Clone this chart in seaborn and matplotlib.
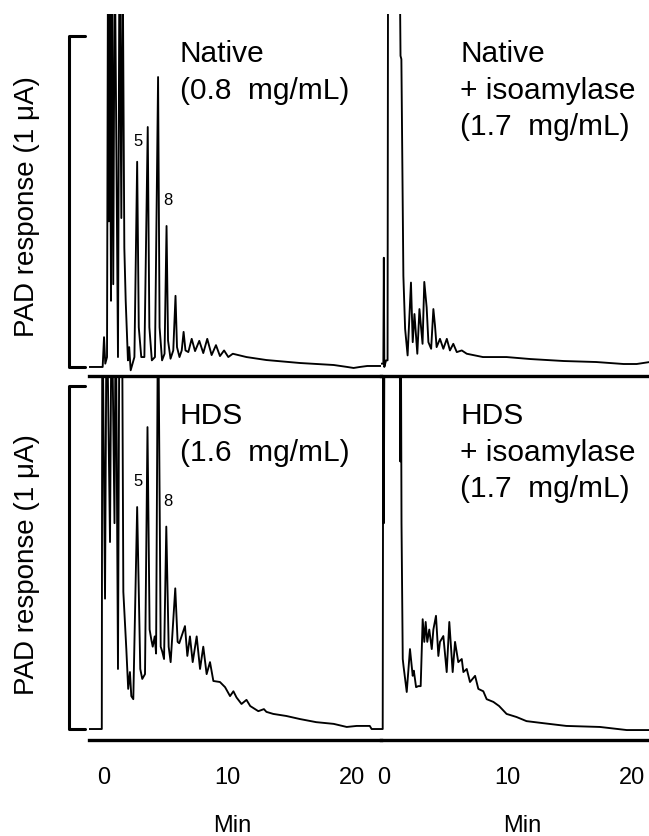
import numpy as np
import pandas as pd
import seaborn as sns
from matplotlib import pyplot as plt
from matplotlib import transforms

#%% Data (time in min, response in uA)
native_t = [-1.15, -0.05, 0.06, 0.16, 0.30, 0.38, 0.45, 0.50, 0.62, 0.68, 0.80, 0.92,
            1.18, 1.30, 1.45, 1.55, 1.69, 1.80, 1.98, 2.08, 2.20, 2.50, 2.72, 2.85,
            3.05, 3.30, 3.57, 3.70, 3.90, 4.15, 4.40, 4.52, 4.72, 4.92, 5.08, 5.20,
            5.40, 5.62, 5.80, 5.92, 6.12, 6.30, 6.45, 6.60, 6.83, 7.10, 7.37, 7.71,
            8.03, 8.35, 8.70, 9.05, 9.37, 9.70, 10.04, 10.40, 11.5, 13.1, 15.8, 18.5,
            19.6, 20.1, 20.6, 21.2, 22.4]
native_r = [0.0, 0.0, 0.09, 0.01, 0.03, 1.3, 0.44, 1.3, 0.20, 1.3, 0.25, 1.3,
            0.03, 1.3, 0.45, 1.3, 0.36, 0.20, 0.02, 0.06, -0.01, 0.03, 0.62, 0.12,
            0.03, 0.03, 0.725, 0.12, 0.02, 0.03, 0.876, 0.12, 0.02, 0.04, 0.426, 0.08,
            0.025, 0.05, 0.215, 0.06, 0.03, 0.05, 0.106, 0.05, 0.045, 0.085, 0.048, 0.079,
            0.042, 0.085, 0.036, 0.066, 0.033, 0.05, 0.03, 0.04, 0.03, 0.021, 0.012, 0.006,
            0.0, -0.003, 0.0, 0.003, 0.003]

native_iso_t = [-0.18, 0.0, 0.04, 0.08, 0.22, 0.34, 0.38, 1.30, 1.38, 1.45, 1.61, 1.75,
                1.95, 2.22, 2.36, 2.50, 2.73, 2.90, 3.15, 3.29, 3.48, 3.62, 3.84, 4.02,
                4.15, 4.28, 4.55, 4.82, 5.10, 5.35, 5.62, 5.90, 6.30, 6.70, 8.0, 9.9,
                11.8, 14.5, 17.1, 19.3, 20.35, 21.4]
native_iso_r = [0.01, 0.01, 0.33, 0.0, 0.02, 0.02, 1.3, 1.3, 0.94, 0.93, 0.275, 0.115,
                0.035, 0.255, 0.075, 0.16, 0.04, 0.175, 0.07, 0.257, 0.18, 0.075, 0.055, 0.175,
                0.125, 0.06, 0.085, 0.055, 0.085, 0.05, 0.07, 0.045, 0.05, 0.04, 0.03, 0.03,
                0.024, 0.018, 0.015, 0.009, 0.009, 0.015]

hds_t = [-1.15, -0.12, -0.08, 0.14, 0.27, 0.54, 0.67, 0.90, 1.0, 1.18, 1.30, 1.50,
         1.61, 1.85, 2.0, 2.14, 2.25, 2.41, 2.72, 2.97, 3.13, 3.35, 3.55, 3.72,
         3.86, 3.97, 4.13, 4.24, 4.40, 4.61, 4.74, 4.88, 5.06, 5.25, 5.41, 5.78,
         5.97, 6.10, 6.56, 6.75, 6.96, 7.18, 7.50, 7.77, 8.03, 8.30, 8.57, 8.84,
         9.37, 9.78, 10.18, 10.45, 10.7, 11.1, 11.5, 11.8, 12.45, 12.9, 13.1, 13.65,
         14.7, 15.8, 17.1, 18.5, 19.55, 20.35, 21.4, 21.55, 22.4]
hds_r = [0.0, 0.0, 1.3, 0.38, 1.3, 0.545, 1.3, 0.6, 1.3, 0.175, 1.3, 1.3,
         0.40, 0.233, 0.117, 0.166, 0.096, 0.087, 0.647, 0.175, 0.146, 0.16, 0.88, 0.29,
         0.26, 0.24, 0.27, 0.22, 1.3, 0.24, 0.225, 0.204, 0.59, 0.24, 0.195, 0.41,
         0.254, 0.25, 0.30, 0.213, 0.27, 0.195, 0.27, 0.175, 0.24, 0.16, 0.195, 0.14,
         0.137, 0.122, 0.096, 0.11, 0.092, 0.073, 0.085, 0.067, 0.052, 0.058, 0.05, 0.044,
         0.038, 0.029, 0.02, 0.015, 0.006, 0.009, 0.009, 0.0, 0.0]

hds_iso_t = [-0.18, -0.05, 0.0, 0.04, 0.10, 1.30, 1.36, 1.40, 1.46, 1.56, 1.62, 1.88,
             2.14, 2.36, 2.45, 2.63, 2.81, 3.0, 3.16, 3.29, 3.40, 3.53, 3.69, 3.89,
             4.02, 4.23, 4.42, 4.55, 4.82, 5.09, 5.30, 5.57, 5.76, 6.02, 6.30, 6.43,
             6.70, 6.96, 7.37, 7.63, 8.03, 8.30, 8.84, 9.3, 9.9, 10.7, 11.5, 12.85,
             14.7, 17.4, 19.55, 21.35]
hds_iso_r = [0.0, 0.0, 1.3, 0.6, 1.3, 1.3, 0.78, 1.3, 0.6, 0.204, 0.184, 0.108,
             0.233, 0.155, 0.17, 0.122, 0.125, 0.125, 0.32, 0.254, 0.312, 0.254, 0.29, 0.233,
             0.29, 0.33, 0.213, 0.254, 0.271, 0.166, 0.312, 0.166, 0.254, 0.195, 0.204, 0.166,
             0.175, 0.137, 0.155, 0.117, 0.11, 0.087, 0.079, 0.067, 0.044, 0.035, 0.023, 0.017,
             0.009, 0.006, -0.003, -0.003]

panel_texts = ['Native\n(0.8  mg/mL)', 'Native\n+ isoamylase\n(1.7  mg/mL)',
               'HDS\n(1.6  mg/mL)', 'HDS\n+ isoamylase\n(1.7  mg/mL)']
peak_labels = ['5', '8']
peak_label_t = [2.79, 5.2]
native_peak_label_r = [0.683, 0.505]
hds_peak_label_r = [0.723, 0.665]
tick_values = [0, 10, 20]
tick_labels = ['0', '10', '20']
ylabel_text = 'PAD response (1 \u03bcA)'
xlabel_text = 'Min'

#%% Style
sns.set_style('white')
plt.rcParams['font.family'] = ['Liberation Sans', 'DejaVu Sans']
plt.rcParams['text.color'] = 'black'
plt.rcParams['axes.labelcolor'] = 'black'
plt.rcParams['xtick.color'] = 'black'
plt.rcParams['xtick.labelcolor'] = 'black'

#%% Figure
fig = plt.figure(figsize=(6.49, 8.37), dpi=100)

ax_tl = fig.add_axes([0.1371, 0.5496, 0.4500, 0.4325])
ax_tr = fig.add_axes([0.5871, 0.5496, 0.4129, 0.4325])
ax_bl = fig.add_axes([0.1371, 0.1147, 0.4500, 0.4349])
ax_br = fig.add_axes([0.5871, 0.1147, 0.4129, 0.4349])

traces = [(ax_tl, native_t, native_r), (ax_tr, native_iso_t, native_iso_r),
          (ax_bl, hds_t, hds_r), (ax_br, hds_iso_t, hds_iso_r)]

for ax, t, r in traces:
    sns.lineplot(x=t, y=r, sort=False, estimator=None, color='black',
                 linewidth=1.35, ax=ax)

for ax in [ax_tl, ax_bl]:
    ax.set_xlim(-1.149, 22.305)
for ax in [ax_tr, ax_br]:
    ax.set_xlim(-0.185, 21.34)
for ax in [ax_tl, ax_tr]:
    ax.set_ylim(-0.0272, 1.0665)
for ax in [ax_bl, ax_br]:
    ax.set_ylim(-0.032, 1.029)

for ax in [ax_tl, ax_tr, ax_bl, ax_br]:
    for side in ['top', 'right', 'left']:
        ax.spines[side].set_visible(False)
    ax.spines['bottom'].set_linewidth(2.4)
    ax.spines['bottom'].set_color('black')
    ax.set_yticks([])
    ax.set_xticks(tick_values)
    ax.tick_params(axis='x', direction='in', length=5, width=2.2, color='black',
                   labelcolor='black', labelsize=17, pad=18.5)
    ax.set_facecolor('none')

for ax in [ax_tl, ax_tr]:
    ax.tick_params(axis='x', labelbottom=False)
for ax in [ax_bl, ax_br]:
    ax.set_xticklabels(tick_labels)
    ax.set_xlabel(xlabel_text, fontsize=17, color='black')
ax_bl.xaxis.set_label_coords(0.49, -0.202)
ax_br.xaxis.set_label_coords(0.526, -0.202)

# 1 uA scale brackets and y labels
for ax, lab_y in [(ax_tl, 0.472), (ax_bl, 0.486)]:
    trans = transforms.blended_transform_factory(ax.transAxes, ax.transData)
    ax.plot([-0.014, -0.070, -0.070, -0.014], [1, 1, 0, 0], color='black',
            linewidth=2.2, transform=trans, clip_on=False)
    ax.set_ylabel(ylabel_text, fontsize=20, color='black')
    ax.yaxis.set_label_coords(-0.168, lab_y)

# panel annotations
for ax, txt, y in zip([ax_tl, ax_tr, ax_bl, ax_br], panel_texts,
                      [0.991, 0.991, 0.956, 0.956]):
    ax.text(6.16, y, txt, fontsize=21.5, ha='left', va='top', linespacing=1.39,
            color='black')

for lab, t, r in zip(peak_labels, peak_label_t, native_peak_label_r):
    ax_tl.text(t, r, lab, fontsize=12, ha='center', va='center', color='black')
for lab, t, r in zip(peak_labels, peak_label_t, hds_peak_label_r):
    ax_bl.text(t, r, lab, fontsize=12, ha='center', va='center', color='black')

fig.savefig('out.png', dpi=100)
